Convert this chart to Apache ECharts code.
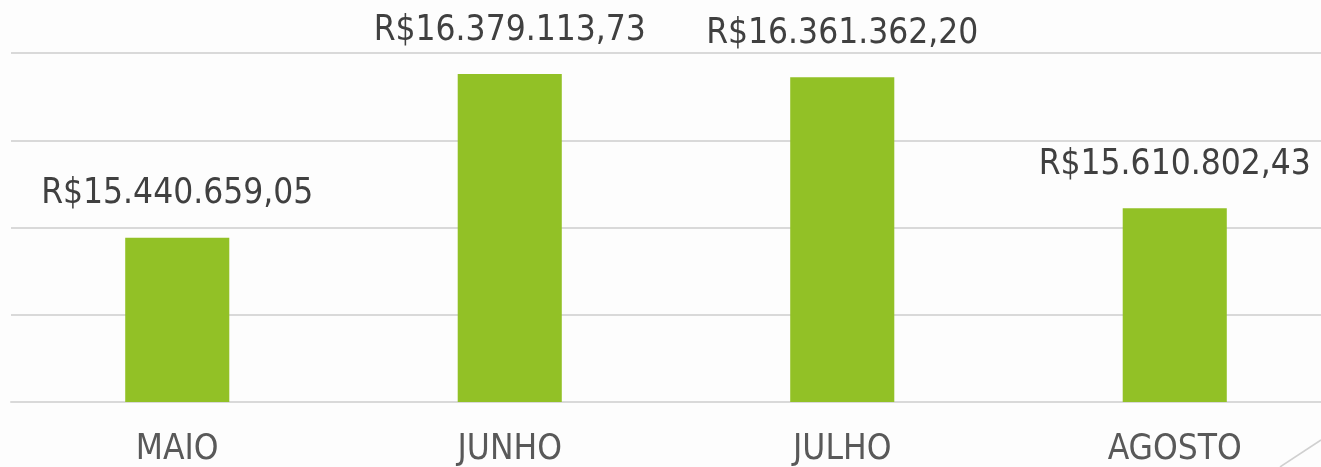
<!DOCTYPE html>
<html>
<head>
<meta charset="utf-8">
<script src="https://cdn.jsdelivr.net/npm/echarts@6/dist/echarts.min.js"></script>
<style>
html,body{margin:0;padding:0;background:#fdfdfd;overflow:hidden;width:1321px;height:467px;}
#c{width:1341px;height:467px;}
</style>
</head>
<body>
<div id="c"></div>
<script>
const categories = ['MAIO', 'JUNHO', 'JULHO', 'AGOSTO'];
const values = [15440659.05, 16379113.73, 16361362.20, 15610802.43];
const labels = ['R$15.440.659,05', 'R$16.379.113,73', 'R$16.361.362,20', 'R$15.610.802,43'];
const yMin = 14500000, yMax = 16500000, yStep = 500000;

const chart = echarts.init(document.getElementById('c'), null, {renderer: 'canvas'});
chart.setOption({
  backgroundColor: '#fdfdfd',
  animation: false,
  grid: {left: 11, right: 0, top: 53, bottom: 64, containLabel: false},
  xAxis: {
    type: 'category',
    data: categories,
    axisLine: {show: true, lineStyle: {color: '#d9d9d9', width: 2}},
    axisTick: {show: false},
    axisLabel: {
      color: '#595959',
      fontFamily: '"DejaVu Sans Condensed", "DejaVu Sans"',
      fontSize: 35,
      margin: 30
    }
  },
  yAxis: {
    type: 'value',
    min: yMin, max: yMax, interval: yStep,
    axisLabel: {show: false},
    axisLine: {show: false},
    axisTick: {show: false},
    splitLine: {lineStyle: {color: '#d9d9d9', width: 2}}
  },
  series: [{
    type: 'bar',
    data: values,
    barWidth: '31.3%',
    itemStyle: {color: '#92c126'},
    label: {
      show: true,
      position: 'top',
      distance: 26,
      color: '#404040',
      fontFamily: '"DejaVu Sans Condensed", "DejaVu Sans"',
      fontSize: 35,
      formatter: p => labels[p.dataIndex]
    }
  }],
  graphic: [{
    type: 'line',
    shape: {x1: 1280, y1: 467, x2: 1321, y2: 440},
    style: {stroke: '#d0d0d0', lineWidth: 1.5},
    silent: true
  }]
});
</script>
</body>
</html>
